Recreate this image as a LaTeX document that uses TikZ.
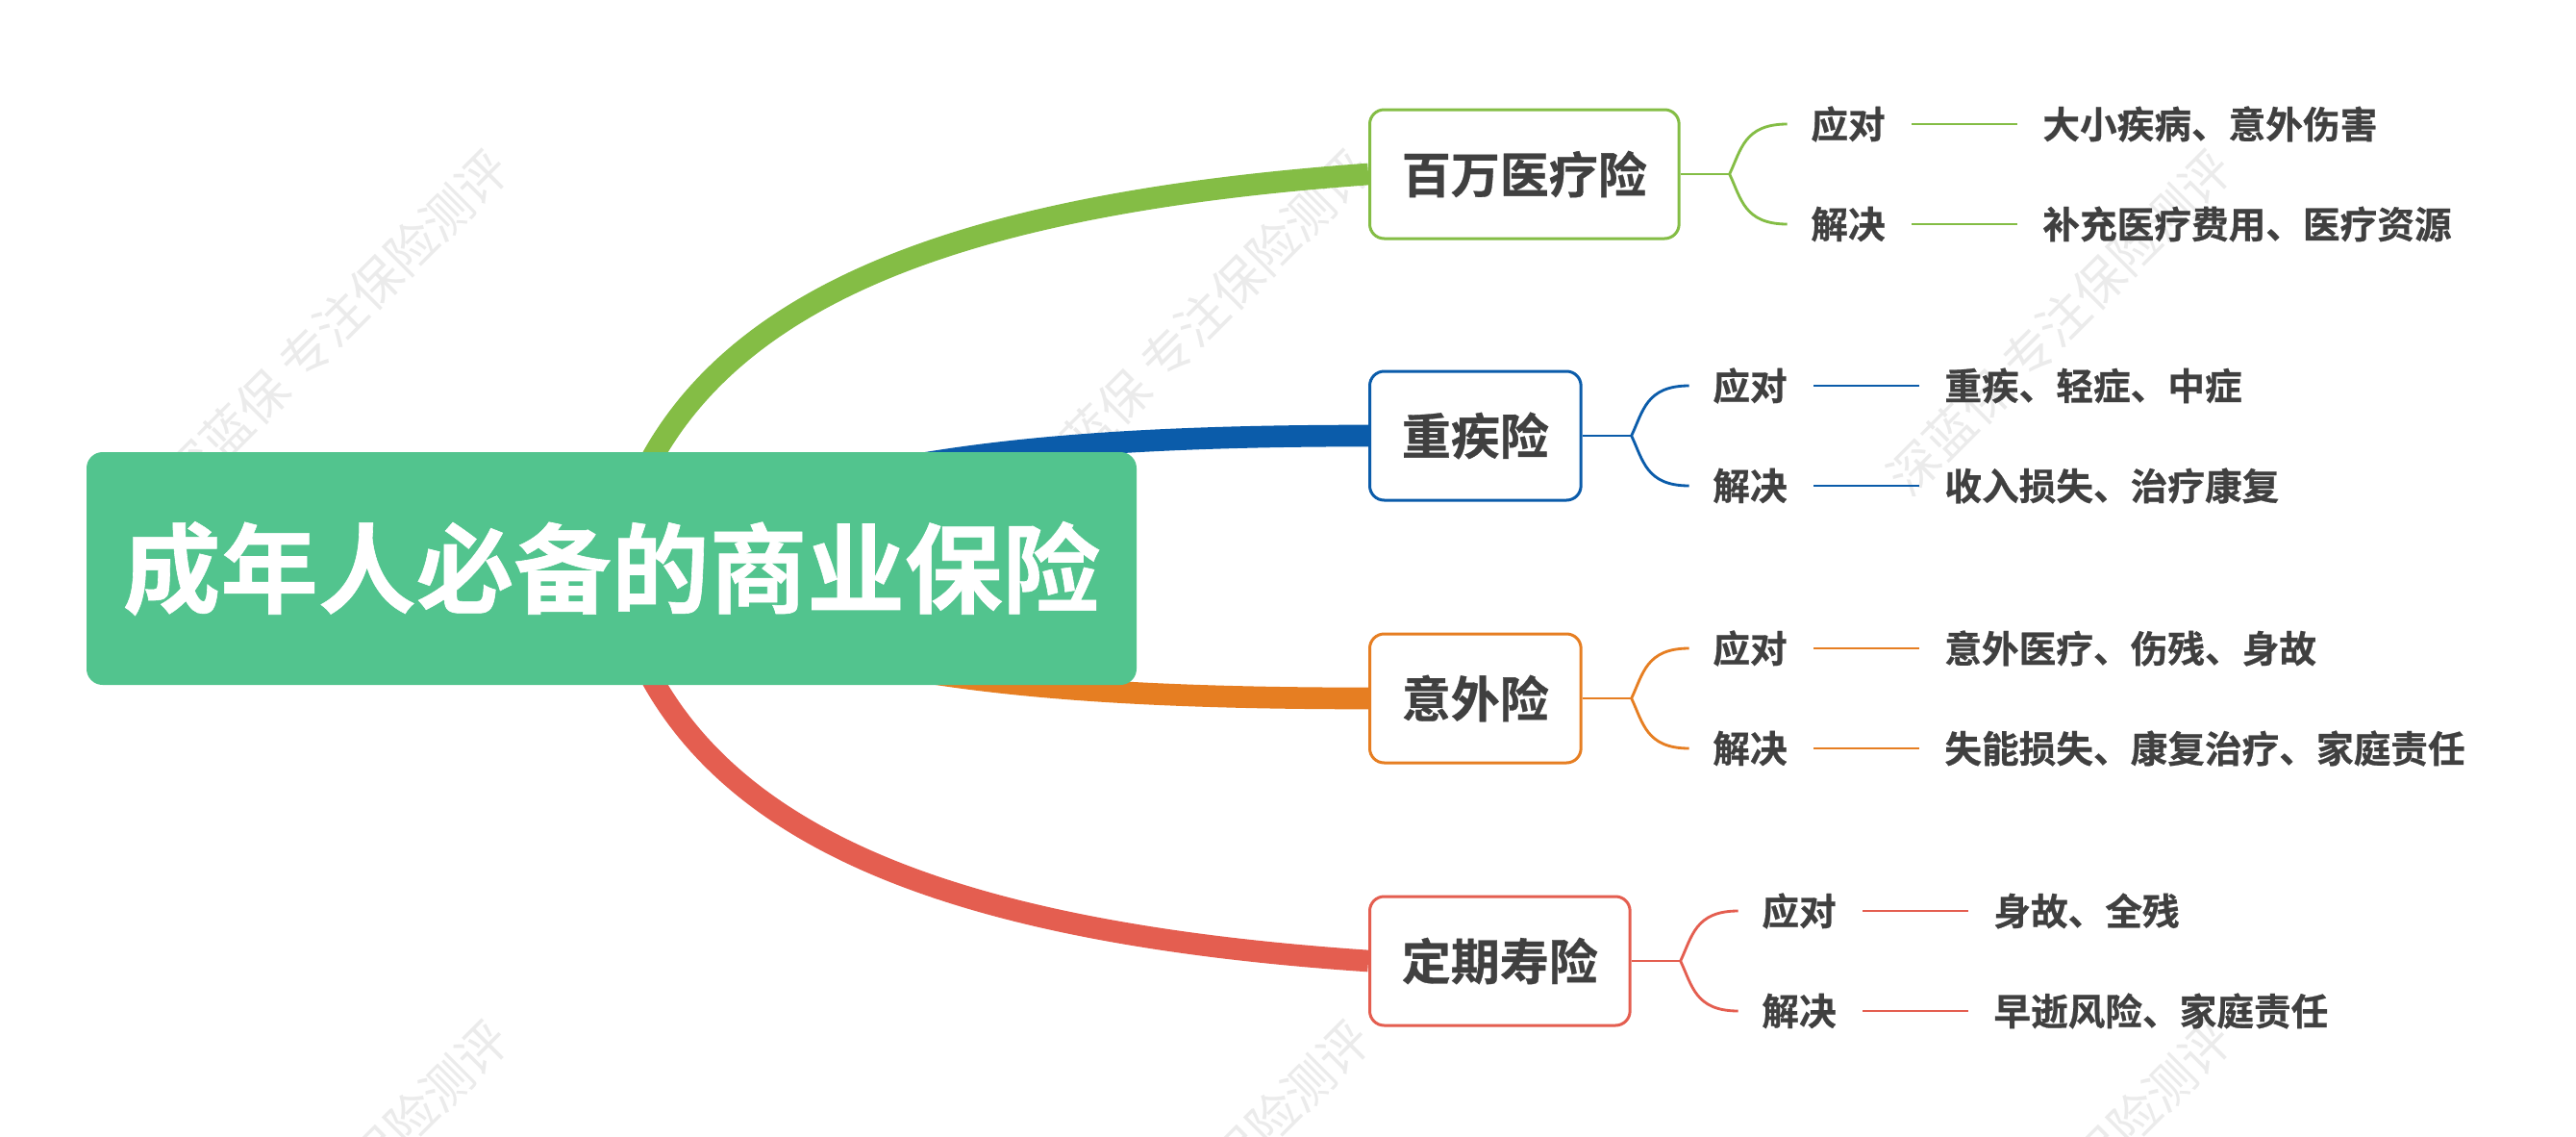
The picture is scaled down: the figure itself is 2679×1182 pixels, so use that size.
\documentclass[tikz,border=0pt]{standalone}
\usepackage{fontspec}
\setmainfont{Noto Sans CJK SC}[BoldFont={Noto Sans CJK SC Bold},BoldFeatures={FakeBold=0.6}]
\usetikzlibrary{calc}
\definecolor{rootc}{RGB}{82,196,142}
\definecolor{gc}{RGB}{132,189,69}
\definecolor{bc}{RGB}{11,92,170}
\definecolor{oc}{RGB}{230,126,34}
\definecolor{rc}{RGB}{228,94,80}
\definecolor{txt}{RGB}{64,64,64}
\pgfdeclarelayer{bg}
\pgfsetlayers{bg,main}
\newcommand\leafpair[4]{%
  \coordinate (#1-f) at ($(#1.east)+(51,0)$);
  \coordinate (#1-e1) at ($(#1.east)+(111,-52)$);
  \coordinate (#1-e2) at ($(#1.east)+(111,52)$);
  \node[leaf] (#1-l1) at ($(#1.east)+(135,-52)$) {应对};
  \node[leaf] (#1-l2) at ($(#1.east)+(135,52)$) {解决};
  \node[leaf] (#1-t1) at ($(#1.east)+(376,-52)$) {#3};
  \node[leaf] (#1-t2) at ($(#1.east)+(376,52)$) {#4};
  \draw[twig=#2] (#1.east) -- (#1-f);
  \draw[twig=#2] (#1-f) .. controls +(12,-25) and +(-45,0) .. (#1-e1);
  \draw[twig=#2] (#1-f) .. controls +(12,25) and +(-45,0) .. (#1-e2);
  \draw[twig=#2, shorten <=8.1pt, shorten >=7.8pt] (#1-l1.east) -- (#1-t1.west);
  \draw[twig=#2, shorten <=8.1pt, shorten >=7.8pt] (#1-l2.east) -- (#1-t2.west);
}
\begin{document}
\begin{tikzpicture}[x=0.3pt,y=-0.3pt,
  rootbox/.style={fill=rootc, rounded corners=5pt, minimum width=327.6pt, minimum height=72.6pt,
    text=white, font=\bfseries\fontsize{30.5}{32}\selectfont, inner sep=0pt},
  branchbox/.style={draw=#1, line width=0.9pt, rounded corners=4.5pt, fill=white,
    minimum height=40.2pt, inner xsep=10pt, inner ysep=0pt, text=txt,
    font=\bfseries\fontsize{15.3}{16}\selectfont, anchor=west},
  leaf/.style={inner sep=0pt, anchor=west, text=txt, font=\bfseries\fontsize{11.6}{13}\selectfont},
  trunk/.style={draw=#1, line width=6.8pt},
  twig/.style={draw=#1, line width=0.85pt},
  wm/.style={text=black!8, font=\fontsize{15.6}{16}\selectfont, rotate=45, inner sep=0pt}
]
\useasboundingbox (0,0) rectangle (2679,1182);
\node[rootbox] (root) at (636,591) {成年人必备的商业保险};
\node[branchbox=gc] (g) at (1423,181) {百万医疗险};
\node[branchbox=bc] (b) at (1423,453) {重疾险};
\node[branchbox=oc] (o) at (1423,726) {意外险};
\node[branchbox=rc] (r) at (1423,999) {定期寿险};
\leafpair{g}{gc}{大小疾病、意外伤害}{补充医疗费用、医疗资源}
\leafpair{b}{bc}{重疾、轻症、中症}{收入损失、治疗康复}
\leafpair{o}{oc}{意外医疗、伤残、身故}{失能损失、康复治疗、家庭责任}
\leafpair{r}{rc}{身故、全残}{早逝风险、家庭责任}
\begin{pgfonlayer}{bg}
  \fill[white] (0,0) rectangle (2679,1182);
  \foreach \x in {350,1246,2142} \foreach \y in {335,1240}
    \node[wm] (wm-\x-\y) at (\x,\y) {深蓝保 专注保险测评};
  \draw[trunk=gc] (root.center) .. controls (690,330) and (950,215) .. (g.west);
  \draw[trunk=bc] (root.center) .. controls (810,495) and (1000,453) .. (b.west);
  \draw[trunk=oc] (root.center) .. controls (810,687) and (1000,726) .. (o.west);
  \draw[trunk=rc] (root.center) .. controls (690,852) and (950,967) .. (r.west);
\end{pgfonlayer}
\end{tikzpicture}
\end{document}
